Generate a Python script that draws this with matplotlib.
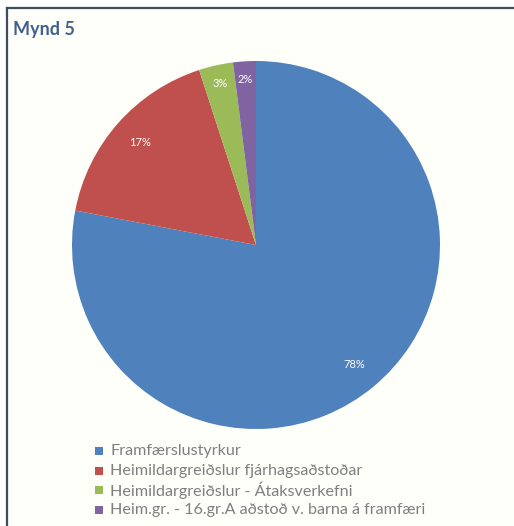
import matplotlib.pyplot as plt
from matplotlib.patches import Rectangle
from matplotlib.lines import Line2D

# data
categories = [
    "Framfærslustyrkur",
    "Heimildargreiðslur fjárhagsaðstoðar",
    "Heimildargreiðslur - Átaksverkefni",
    "Heim.gr. - 16.gr.A aðstoð v. barna á framfæri",
]
shares = [78, 17, 3, 2]
colors = ["#4f81bd", "#c0504d", "#9bbb59", "#8064a2"]

W, H = 514, 526
plt.rcParams['font.family'] = ['Lato', 'DejaVu Sans']

fig = plt.figure(figsize=(W / 100, H / 100), dpi=100)
fig.patch.set_facecolor('white')

# chart frame (cream area, dark top/left border)
fig.patches.append(Rectangle((7 / W, 0), 1 - 7 / W, 1 - 8 / H, transform=fig.transFigure,
                             facecolor='#fffffa', edgecolor='none', zorder=-5))
fig.add_artist(Line2D([7 / W, 1], [1 - 8 / H, 1 - 8 / H], transform=fig.transFigure,
                      color='#3e4c5e', lw=1.6))
fig.add_artist(Line2D([7 / W, 7 / W], [0, 1 - 8 / H], transform=fig.transFigure,
                      color='#3e4c5e', lw=1.6))

fig.text(13 / W, 1 - 29 / H, "Mynd 5", fontsize=13, fontweight='bold',
         color='#41618c', va='center', ha='left')

# pie
cx, cy, r = 256, 245, 184
ax = fig.add_axes([(cx - r) / W, 1 - (cy + r) / H, 2 * r / W, 2 * r / H])
ax.set_zorder(2)
wedges, texts, autotexts = ax.pie(
    shares, colors=colors, startangle=90, counterclock=False,
    autopct=lambda p: f"{p:.0f}%", pctdistance=0.84,
    textprops=dict(color='white', fontsize=8),
)
for t, s in zip(autotexts, shares):
    if s < 5:
        x, y = t.get_position()
        t.set_position((x * 0.9 / 0.84, y * 0.9 / 0.84))
ax.set_xlim(-1, 1)
ax.set_ylim(-1, 1)
ax.set_aspect('auto')
ax.axis('off')

# legend
for i, (lab, col) in enumerate(zip(categories, colors)):
    y = 451 + 19.7 * i
    fig.patches.append(Rectangle((95 / W, 1 - (y + 4) / H), 8 / W, 8 / H,
                                 transform=fig.transFigure, facecolor=col, edgecolor='none'))
    fig.text(110 / W, 1 - y / H, lab, fontsize=11.6, color='#7f7f7f', va='center', ha='left')

fig.savefig("out.png", dpi=100)
